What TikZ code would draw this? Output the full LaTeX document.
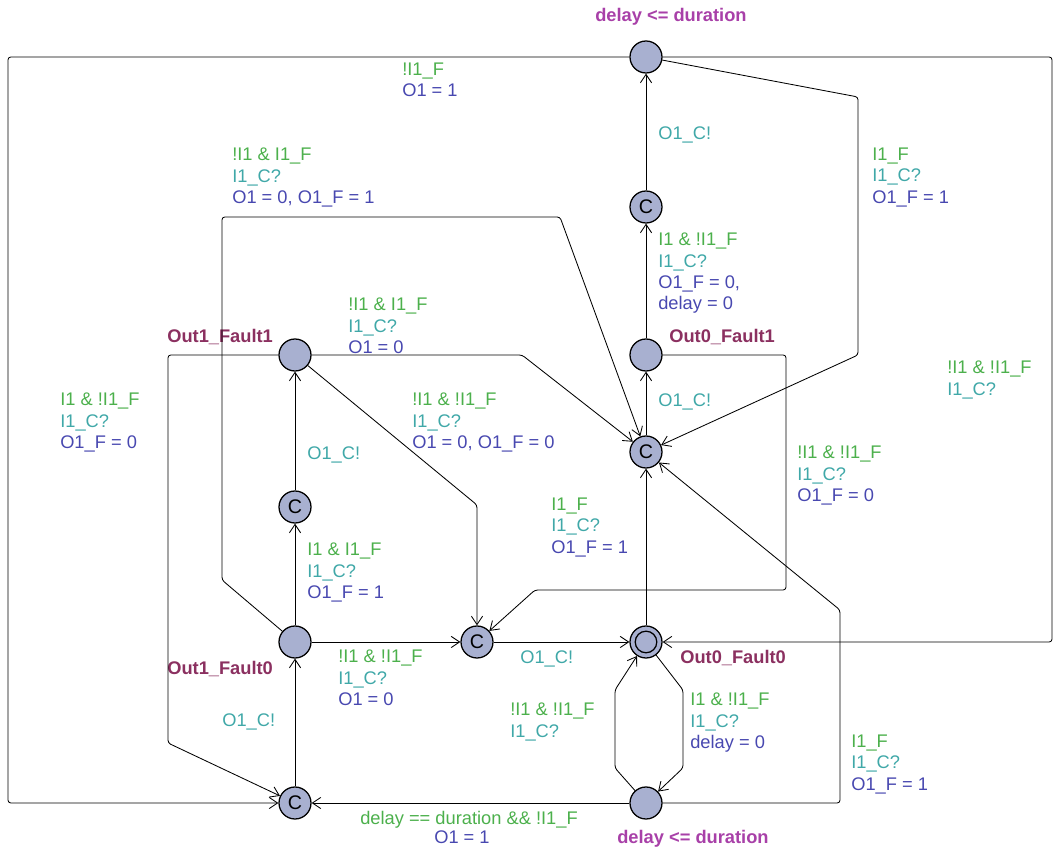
\documentclass[tikz,border=0pt]{standalone}
\usepackage{fontspec}
\setmainfont{Liberation Sans}
\usetikzlibrary{arrows.meta}

\definecolor{locfill}{RGB}{168,176,208}
\definecolor{guardcol}{RGB}{76,176,76}
\definecolor{synccol}{RGB}{64,168,168}
\definecolor{updcol}{RGB}{72,72,176}
\definecolor{namecol}{RGB}{139,48,96}
\definecolor{invcol}{RGB}{168,64,168}

\newcommand{\grd}[1]{\textcolor{guardcol}{#1}}
\newcommand{\snc}[1]{\textcolor{synccol}{#1}}
\newcommand{\upd}[1]{\textcolor{updcol}{#1}}

\begin{document}
\begin{tikzpicture}[
  font=\fontsize{13}{15}\selectfont,
  loc/.style={circle, draw, line width=0.9pt, fill=locfill, minimum size=0.8cm, inner sep=0pt},
  committed/.style={loc, font=\fontsize{14}{15}\selectfont},
  lbl/.style={anchor=north west, inner sep=0pt, align=left},
  locname/.style={anchor=north west, inner sep=0pt, font=\fontsize{13}{15}\selectfont\bfseries, text=namecol},
  inv/.style={locname, text=invcol},
  trans/.style={-{Straight Barb[length=6pt,width=8pt]}, line width=0.6pt, rounded corners=2pt},
]
\useasboundingbox (0,0) rectangle (26.35,21.275);

% Locations
\node[loc] (top) at (16.15,19.85) {};
\node[committed] (cUp) at (16.15,16.1) {C};
\node[loc] (out0f1) at (16.15,12.4) {};
\node[committed] (cMid) at (16.15,9.975) {C};
\node[loc] (out0f0) at (16.15,5.225) {};
\draw[line width=0.9pt] (out0f0.center) circle (0.27);
\node[loc] (bot) at (16.15,1.2) {};

\node[loc] (out1f1) at (7.375,12.4) {};
\node[committed] (cLeft) at (7.375,8.6) {C};
\node[loc] (out1f0) at (7.375,5.225) {};
\node[committed] (cCentre) at (11.925,5.225) {C};
\node[committed] (cLow) at (7.375,1.2) {C};

% Names and invariants
\node[locname] (n01) at (4.175,13.05) {Out1\_Fault1};
\node[locname] (n02) at (16.725,13.05) {Out0\_Fault1};
\node[locname] (n03) at (4.175,4.75) {Out1\_Fault0};
\node[locname] (n04) at (17.0,5.025) {Out0\_Fault0};
\node[inv] (inv01) at (14.875,21.075) {delay <= duration};
\node[inv] (inv02) at (15.425,0.525) {delay <= duration};

% Transitions
\draw[trans] (cUp) -- (top);
\draw[trans] (out0f1) -- (cUp);
\draw[trans] (cMid) -- (out0f1);
\draw[trans] (out0f0) -- (cMid);
\draw[trans] (cLeft) -- (out1f1);
\draw[trans] (out1f0) -- (cLeft);
\draw[trans] (out1f0) -- (cCentre);
\draw[trans] (cCentre) -- (out0f0);
\draw[trans] (cLow) -- (out1f0);
\draw[trans] (bot) -- (cLow);

\draw[trans] (top) -- (0.2,19.85) -- (0.2,1.2) -- (cLow);
\draw[trans] (top) -- (26.3,19.85) -- (26.3,5.225) -- (out0f0);
\draw[trans] (top) -- (21.45,18.85) -- (21.45,12.4) -- (cMid);
\draw[trans] (out0f1) -- (19.65,12.4) -- (19.65,6.525) -- (13.375,6.525) -- (cCentre);
\draw[trans] (out1f1) -- (13.05,12.4) -- (cMid);
\draw[trans] (out1f1) -- (11.925,8.65) -- (cCentre);
\draw[trans] (out1f1) -- (4.2,12.4) -- (4.2,2.7) -- (cLow);
\draw[trans] (out1f0) -- (5.55,6.775) -- (5.55,15.85) -- (14.0,15.85) -- (cMid);
\draw[trans] (out0f0) -- (17.075,4.025) -- (17.075,2.075) -- (bot);
\draw[trans] (bot) -- (15.375,2.075) -- (15.375,4.025) -- (out0f0);
\draw[trans] (bot) -- (21.0,1.2) -- (21.0,6.025) -- (cMid);

% Guards, synchronisations and updates
\node[lbl] (lab01) at (10.05,19.7) {\grd{!I1\_F}\\\upd{O1 = 1}};
\node[lbl] (lab02) at (5.8,17.575) {\grd{!I1 \& I1\_F}\\\snc{I1\_C?}\\\upd{O1 = 0, O1\_F = 1}};
\node[lbl] (lab03) at (21.8,17.575) {\grd{I1\_F}\\\snc{I1\_C?}\\\upd{O1\_F = 1}};
\node[lbl] (lab04) at (16.45,18.125) {\snc{O1\_C!}};
\node[lbl] (lab05) at (16.45,15.45) {\grd{I1 \& !I1\_F}\\\snc{I1\_C?}\\\upd{O1\_F = 0,}\\\upd{delay = 0}};
\node[lbl] (lab06) at (8.7,13.825) {\grd{!I1 \& I1\_F}\\\snc{I1\_C?}\\\upd{O1 = 0}};
\node[lbl] (lab07) at (23.675,12.25) {\grd{!I1 \& !I1\_F}\\\snc{I1\_C?}};
\node[lbl] (lab08) at (1.5,11.45) {\grd{I1 \& !I1\_F}\\\snc{I1\_C?}\\\upd{O1\_F = 0}};
\node[lbl] (lab09) at (7.675,10.125) {\snc{O1\_C!}};
\node[lbl] (lab10) at (10.3,11.45) {\grd{!I1 \& !I1\_F}\\\snc{I1\_C?}\\\upd{O1 = 0, O1\_F = 0}};
\node[lbl] (lab11) at (16.45,11.45) {\snc{O1\_C!}};
\node[lbl] (lab12) at (19.925,10.125) {\grd{!I1 \& !I1\_F}\\\snc{I1\_C?}\\\upd{O1\_F = 0}};
\node[lbl] (lab13) at (13.775,8.825) {\grd{I1\_F}\\\snc{I1\_C?}\\\upd{O1\_F = 1}};
\node[lbl] (lab14) at (7.675,7.7) {\grd{I1 \& I1\_F}\\\snc{I1\_C?}\\\upd{O1\_F = 1}};
\node[lbl] (lab15) at (8.45,5.025) {\grd{!I1 \& !I1\_F}\\\snc{I1\_C?}\\\upd{O1 = 0}};
\node[lbl] (lab16) at (13.0,5.025) {\snc{O1\_C!}};
\node[lbl] (lab17) at (5.55,3.45) {\snc{O1\_C!}};
\node[lbl] (lab18) at (12.75,3.7) {\grd{!I1 \& !I1\_F}\\\snc{I1\_C?}};
\node[lbl] (lab19) at (17.25,3.95) {\grd{I1 \& !I1\_F}\\\snc{I1\_C?}\\\upd{delay = 0}};
\node[lbl] (lab20) at (21.275,2.9) {\grd{I1\_F}\\\snc{I1\_C?}\\\upd{O1\_F = 1}};
\node[lbl] (lab21) at (9.0,1.0) {\grd{delay == duration \&\& !I1\_F}};
\node[lbl] (lab22) at (10.85,0.525) {\upd{O1 = 1}};
\end{tikzpicture}
\end{document}
